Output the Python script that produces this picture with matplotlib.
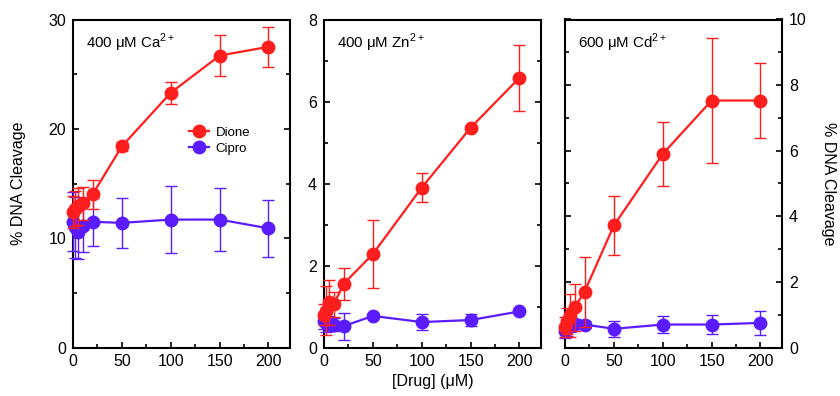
import matplotlib
matplotlib.use("Agg")
import matplotlib.pyplot as plt
from matplotlib.lines import Line2D
from matplotlib.ticker import MultipleLocator

plt.rcParams['font.family'] = ['Liberation Sans', 'DejaVu Sans']
plt.rcParams['mathtext.fontset'] = 'custom'
plt.rcParams['mathtext.rm'] = 'Liberation Sans'

conc = [0, 2.5, 5, 10, 20, 50, 100, 150, 200]

# Panel 1: 400 uM Ca2+
ca_dione = [12.4, 12.7, 12.9, 13.2, 14.0, 18.4, 23.3, 26.7, 27.5]
ca_dione_err = [1.5, 1.6, 1.7, 1.5, 1.3, 0.4, 1.0, 1.9, 1.8]
ca_cipro = [11.5, 11.0, 10.6, 11.1, 11.5, 11.4, 11.7, 11.7, 10.9]
ca_cipro_err = [2.7, 2.8, 2.5, 2.4, 2.2, 2.3, 3.1, 2.9, 2.6]

# Panel 2: 400 uM Zn2+
zn_dione = [0.8, 0.9, 1.1, 1.05, 1.55, 2.28, 3.9, 5.36, 6.58]
zn_dione_err = [0.25, 0.6, 0.55, 0.3, 0.38, 0.82, 0.35, 0.05, 0.8]
zn_cipro = [0.64, 0.6, 0.58, 0.56, 0.52, 0.77, 0.62, 0.67, 0.88]
zn_cipro_err = [0.2, 0.22, 0.18, 0.15, 0.33, 0.05, 0.2, 0.15, 0.05]

# Panel 3: 600 uM Cd2+
cd_dione = [0.62, 0.8, 0.98, 1.23, 1.7, 3.72, 5.9, 7.53, 7.53]
cd_dione_err = [0.3, 0.4, 0.65, 0.72, 1.07, 0.9, 0.97, 1.92, 1.14]
cd_cipro = [0.5, 0.6, 0.68, 0.72, 0.7, 0.57, 0.7, 0.7, 0.75]
cd_cipro_err = [0.2, 0.25, 0.2, 0.15, 0.12, 0.25, 0.25, 0.3, 0.37]

panel_labels = ['400 μM Ca$^{2+}$', '400 μM Zn$^{2+}$', '600 μM Cd$^{2+}$']
series_names = ['Dione', 'Cipro']
ylims = [30, 8, 10]
ymajor = [10, 2, 2]
yminor = [5, 1, 1]

RED = '#ff1e1e'
BLUE = '#5a1cff'

fig = plt.figure(figsize=(8.4, 3.96), dpi=100)
lefts = [73 / 840, 324 / 840, 565 / 840]
w = 217 / 840
b = 1 - 347.5 / 396
h = (347.5 - 19.5) / 396

data = [
    (ca_dione, ca_dione_err, ca_cipro, ca_cipro_err),
    (zn_dione, zn_dione_err, zn_cipro, zn_cipro_err),
    (cd_dione, cd_dione_err, cd_cipro, cd_cipro_err),
]

for i in range(3):
    ax = fig.add_axes([lefts[i], b, w, h])
    d, de, c, ce = data[i]
    kw = dict(marker='o', markersize=9, lw=1.6, capsize=4.5, elinewidth=1.0,
              capthick=1.0, clip_on=False)
    ax.errorbar(conc, c, yerr=ce, color=BLUE, zorder=3, **kw)
    ax.errorbar(conc, d, yerr=de, color=RED, zorder=4, **kw)
    ax.set_xlim(0, 222)
    ax.set_ylim(0, ylims[i])
    ax.xaxis.set_major_locator(MultipleLocator(50))
    ax.xaxis.set_minor_locator(MultipleLocator(25))
    ax.yaxis.set_major_locator(MultipleLocator(ymajor[i]))
    ax.yaxis.set_minor_locator(MultipleLocator(yminor[i]))
    ax.tick_params(axis='both', which='both', direction='in', labelsize=11.5,
                   width=1.2, pad=5)
    ax.tick_params(axis='both', which='major', length=4)
    ax.tick_params(axis='both', which='minor', length=3)
    ax.tick_params(axis='y', which='both', left=True, right=True)
    ax.tick_params(axis='x', which='both', top=False)
    if i == 2:
        ax.tick_params(axis='y', which='both', labelleft=False, labelright=True)
        ax.set_ylabel('% DNA Cleavage', fontsize=11.5, rotation=-90, labelpad=21)
        ax.yaxis.set_label_position('right')
    if i == 0:
        ax.set_ylabel('% DNA Cleavage', fontsize=11.5, labelpad=16)
    if i == 1:
        ax.set_xlabel('[Drug] (μM)', fontsize=11.5, labelpad=3)
    for s in ax.spines.values():
        s.set_linewidth(1.5)
    ax.text(0.06, 0.93, panel_labels[i], transform=ax.transAxes, fontsize=10.8,
            va='center', ha='left')
    if i == 0:
        handles = [Line2D([], [], color=RED, marker='o', markersize=9, lw=1.6),
                   Line2D([], [], color=BLUE, marker='o', markersize=9, lw=1.6)]
        ax.legend(handles, series_names, loc='center left',
                  bbox_to_anchor=(0.48, 0.63), frameon=False, fontsize=9.5,
                  handlelength=1.5, handletextpad=0.5, labelspacing=0.3)

fig.savefig('out.png', dpi=100)
